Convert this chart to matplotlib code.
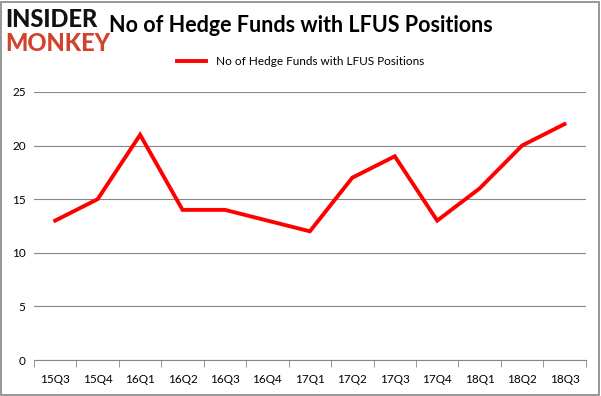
import matplotlib
matplotlib.use('Agg')
import matplotlib.pyplot as plt
from matplotlib.patches import Rectangle

plt.rcParams['font.family'] = ['Lato', 'DejaVu Sans']

QUARTERS = ['15Q3', '15Q4', '16Q1', '16Q2', '16Q3', '16Q4', '17Q1',
            '17Q2', '17Q3', '17Q4', '18Q1', '18Q2', '18Q3']
FUNDS = [13, 15, 21, 14, 14, 13, 12, 17, 19, 13, 16, 20, 22]
Y_TICKS = [0, 5, 10, 15, 20, 25]
TITLE = 'No of Hedge Funds with LFUS Positions'


def main():
    fig = plt.figure(figsize=(6.01, 3.96), dpi=100)
    ax = fig.add_axes([0.0566, 0.0909, 0.918, 0.677])

    x = list(range(len(QUARTERS)))
    line, = ax.plot(x, FUNDS, color='#ff0000', linewidth=2.8,
                    label=TITLE, solid_joinstyle='miter')

    ax.set_xlim(-0.5, len(QUARTERS) - 0.5)
    ax.set_ylim(0, 25)
    ax.set_yticks(Y_TICKS)
    ax.set_xticks(x)
    ax.set_xticklabels(QUARTERS, fontsize=8.5)
    ax.set_xticks([i - 0.5 for i in range(len(QUARTERS) + 1)], minor=True)
    ax.tick_params(axis='x', which='major', length=0, pad=10)
    ax.tick_params(axis='x', which='minor', length=5, color='#868686')
    ax.tick_params(axis='y', length=0, labelsize=8.5, pad=6)

    ax.grid(axis='y', color='#868686', linewidth=0.8)
    ax.set_axisbelow(True)
    for side in ['top', 'right', 'left']:
        ax.spines[side].set_visible(False)
    ax.spines['bottom'].set_color('#868686')

    fig.text(0.5, 0.935, TITLE, ha='center', va='center',
             fontsize=15.5, fontweight='bold')
    fig.text(0.008, 0.95, 'INSIDER', ha='left', va='center',
             fontsize=17, fontweight='black', color='#111111')
    fig.text(0.008, 0.89, 'MONKEY', ha='left', va='center',
             fontsize=17, fontweight='black', color='#d0432e')

    fig.legend(handles=[line], loc='center', bbox_to_anchor=(0.5, 0.845),
               frameon=False, fontsize=8.5, handlelength=2.5)

    fig.patches.append(Rectangle((0.002, 0.003), 0.995, 0.993,
                                 transform=fig.transFigure, fill=False,
                                 edgecolor='#868686', linewidth=1.2))

    fig.savefig('out.png', dpi=100)


if __name__ == '__main__':
    main()
